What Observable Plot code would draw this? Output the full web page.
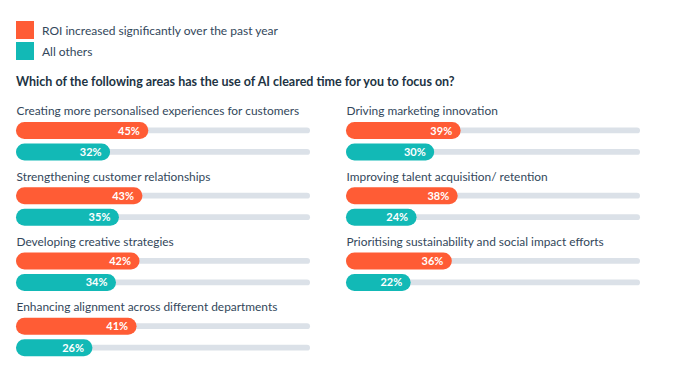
<!DOCTYPE html>
<html>
<head>
<meta charset="utf-8">
<script src="https://cdn.jsdelivr.net/npm/d3@7"></script>
<script src="https://cdn.jsdelivr.net/npm/@observablehq/plot@0.6"></script>
<style>
  html, body { margin: 0; padding: 0; background: #fff; }
  body { width: 682px; height: 370px; position: relative; overflow: hidden; font-family: Lato, "Open Sans", sans-serif; }
  .legend { position: absolute; left: 16px; top: 21px; }
  .legend .item { display: flex; align-items: center; height: 18px; margin-bottom: 3px; font-size: 12px; color: #33475b; }
  .legend .sw { width: 18px; height: 18px; margin-right: 8px; }
  .title { position: absolute; left: 16px; top: 74px; font-size: 12.5px; font-weight: bold; color: #213343; white-space: nowrap; }
  #chart { position: absolute; left: 0; top: 100px; }
</style>
</head>
<body>
<div class="legend" id="legend"></div>
<div class="title" id="title"></div>
<div id="chart"></div>
<script>
const titleText = "Which of the following areas has the use of AI cleared time for you to focus on?";
const seriesNames = ["ROI increased significantly over the past year", "All others"];
const seriesColors = ["#ff5c35", "#12b9b6"];
const categories = [
  "Creating more personalised experiences for customers",
  "Strengthening customer relationships",
  "Developing creative strategies",
  "Enhancing alignment across different departments",
  "Driving marketing innovation",
  "Improving talent acquisition/ retention",
  "Prioritising sustainability and social impact efforts"
];
const roiValues = [45, 43, 42, 41, 39, 38, 36];
const otherValues = [32, 35, 34, 26, 30, 24, 22];

document.getElementById("title").textContent = titleText;
const legend = document.getElementById("legend");
seriesNames.forEach((s, i) => {
  const it = document.createElement("div");
  it.className = "item";
  const sw = document.createElement("div");
  sw.className = "sw";
  sw.style.background = seriesColors[i];
  const t = document.createElement("span");
  t.textContent = s;
  it.appendChild(sw); it.appendChild(t);
  legend.appendChild(it);
});

const perCol = 4;
const data = categories.flatMap((c, i) => seriesNames.map((s, j) => ({
  category: c, series: s, value: j === 0 ? roiValues[i] : otherValues[i],
  col: i < perCol ? 0 : 1, row: i < perCol ? i : i - perCol
})));
const labels = categories.map((c, i) => ({category: c, col: i < perCol ? 0 : 1, row: i < perCol ? i : i - perCol}));

const chart = Plot.plot({
  width: 682,
  height: 261,
  marginLeft: 16, marginRight: 42, marginTop: 0, marginBottom: 0,
  style: {fontFamily: "Lato, 'Open Sans', sans-serif"},
  fx: {domain: [0, 1], padding: 0.109, round: false, axis: null},
  fy: {domain: [0, 1, 2, 3], padding: 0, round: false, axis: null},
  x: {domain: [0, 100], axis: null},
  y: {domain: seriesNames, paddingInner: 0.209, paddingOuter: 0.623, align: 0.821, round: false, axis: null},
  color: {domain: seriesNames, range: seriesColors},
  marks: [
    Plot.barX(data, {fx: "col", fy: "row", y: "series", x1: 0, x2: 100, fill: "#dbe1e8", insetTop: 5.6, insetBottom: 5.6, rx: 3}),
    Plot.barX(data, {fx: "col", fy: "row", y: "series", x1: 0, x2: "value", fill: "series", rx: 8.5}),
    Plot.text(data, {fx: "col", fy: "row", y: "series", x: "value", text: d => d.value + "%", textAnchor: "end", dx: -9, fill: "white", fontWeight: "bold", fontSize: 11}),
    Plot.text(labels, {fx: "col", fy: "row", text: "category", frameAnchor: "top-left", textAnchor: "start", lineAnchor: "middle", dy: 11, dx: 0, fill: "#33475b", fontSize: 11.9})
  ]
});
document.getElementById("chart").appendChild(chart);
</script>
</body>
</html>
